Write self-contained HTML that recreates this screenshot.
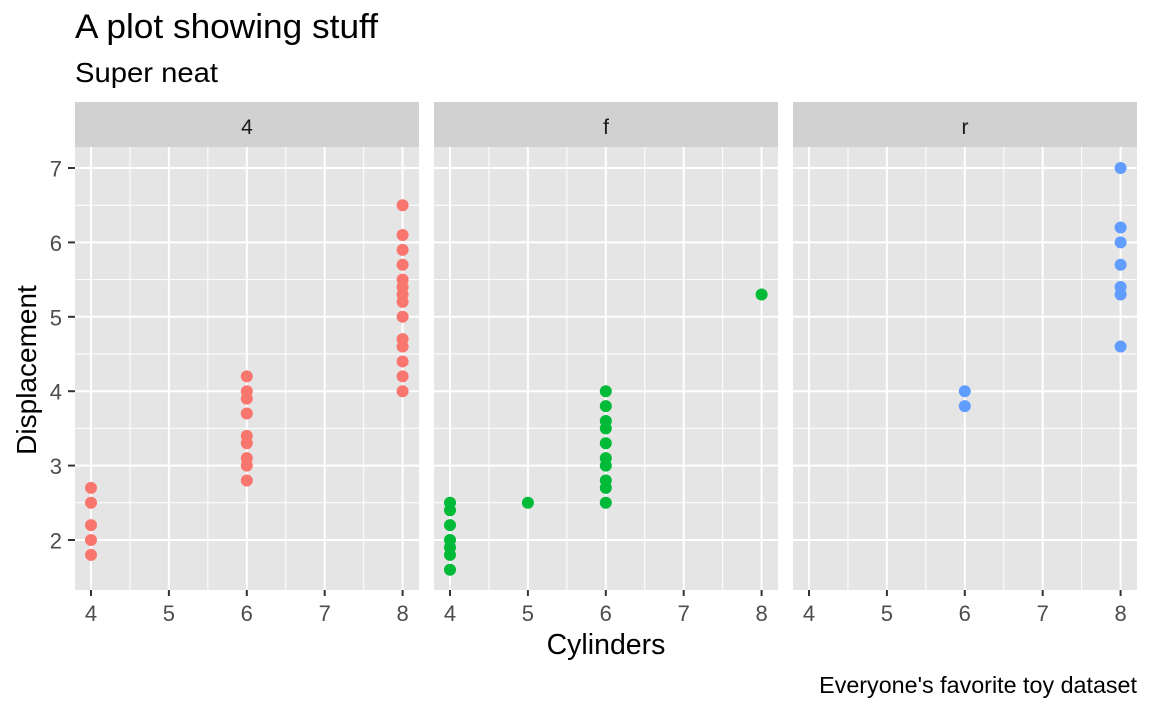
<!DOCTYPE html>
<html><head><meta charset="utf-8"><style>body{margin:0;background:#fff}svg{display:block}text{font-family:"Liberation Sans",Arial,sans-serif}</style></head><body>
<svg id="s" width="1152" height="711" xmlns="http://www.w3.org/2000/svg">
<rect width="1152" height="711" fill="#fff"/>
<text x="75" y="38" font-size="34" fill="#000" textLength="303" lengthAdjust="spacingAndGlyphs">A plot showing stuff</text>
<text x="75" y="82" font-size="28" fill="#000" textLength="143" lengthAdjust="spacingAndGlyphs">Super neat</text>
<text x="606" y="654" font-size="28.5" text-anchor="middle">Cylinders</text>
<text transform="translate(36,370) rotate(-90)" font-size="28" text-anchor="middle">Displacement</text>
<text x="1137" y="693" font-size="23.3" text-anchor="end">Everyone's favorite toy dataset</text>
<g id="g"></g>
</svg>
<script>
const g=document.getElementById('g');let h='';
const Y=v=>540-(v-2)*74.4;
const panels=[[75,'4','#F8766D',[[4,[1.8,2.0,2.2,2.5,2.7]],[6,[2.8,3.0,3.1,3.3,3.4,3.7,3.9,4.0,4.2]],[8,[4.0,4.2,4.4,4.6,4.7,5.0,5.2,5.3,5.4,5.5,5.7,5.9,6.1,6.5]]]],
[434,'f','#00BA38',[[4,[1.6,1.8,1.9,2.0,2.2,2.4,2.5]],[5,[2.5]],[6,[2.5,2.7,2.8,3.0,3.1,3.3,3.5,3.6,3.8,4.0]],[8,[5.3]]]],
[793,'r','#619CFF',[[6,[3.8,4.0]],[8,[4.6,5.3,5.4,5.7,6.0,6.2,7.0]]]]];
panels.forEach((p,i)=>{const x0=p[0],w=344,X=c=>x0+16+(c-4)*77.9;
h+=`<rect x="${x0}" y="102" width="${w}" height="45" fill="#D1D1D1"/><text x="${x0+w/2}" y="134" font-size="21" text-anchor="middle" fill="#1a1a1a">${p[1]}</text>`;
h+=`<rect x="${x0}" y="147" width="${w}" height="443" fill="#E5E5E5"/>`;
for(let v=2.5;v<7;v++)h+=`<line x1="${x0}" x2="${x0+w}" y1="${Y(v)}" y2="${Y(v)}" stroke="#fff" stroke-width="1"/>`;
for(let c=4.5;c<8;c++)h+=`<line y1="147" y2="590" x1="${X(c)}" x2="${X(c)}" stroke="#fff" stroke-width="1"/>`;
for(let v=2;v<=7;v++)h+=`<line x1="${x0}" x2="${x0+w}" y1="${Y(v)}" y2="${Y(v)}" stroke="#fff" stroke-width="2"/>`;
for(let c=4;c<=8;c++){h+=`<line y1="147" y2="590" x1="${X(c)}" x2="${X(c)}" stroke="#fff" stroke-width="2"/><line y1="590" y2="596" x1="${X(c)}" x2="${X(c)}" stroke="#333" stroke-width="2"/><text x="${X(c)}" y="621" font-size="22" text-anchor="middle" fill="#4d4d4d">${c}</text>`;}
if(i==0)for(let v=2;v<=7;v++)h+=`<line x1="68" x2="75" y1="${Y(v)}" y2="${Y(v)}" stroke="#333" stroke-width="2"/><text x="62" y="${Y(v)+8.5}" font-size="22" text-anchor="end" fill="#4d4d4d">${v}</text>`;
p[3].forEach(([c,vs])=>vs.forEach(v=>h+=`<circle cx="${X(c)}" cy="${Y(v)}" r="6" fill="${p[2]}"/>`));});
g.innerHTML=h;
</script>
</body></html>
